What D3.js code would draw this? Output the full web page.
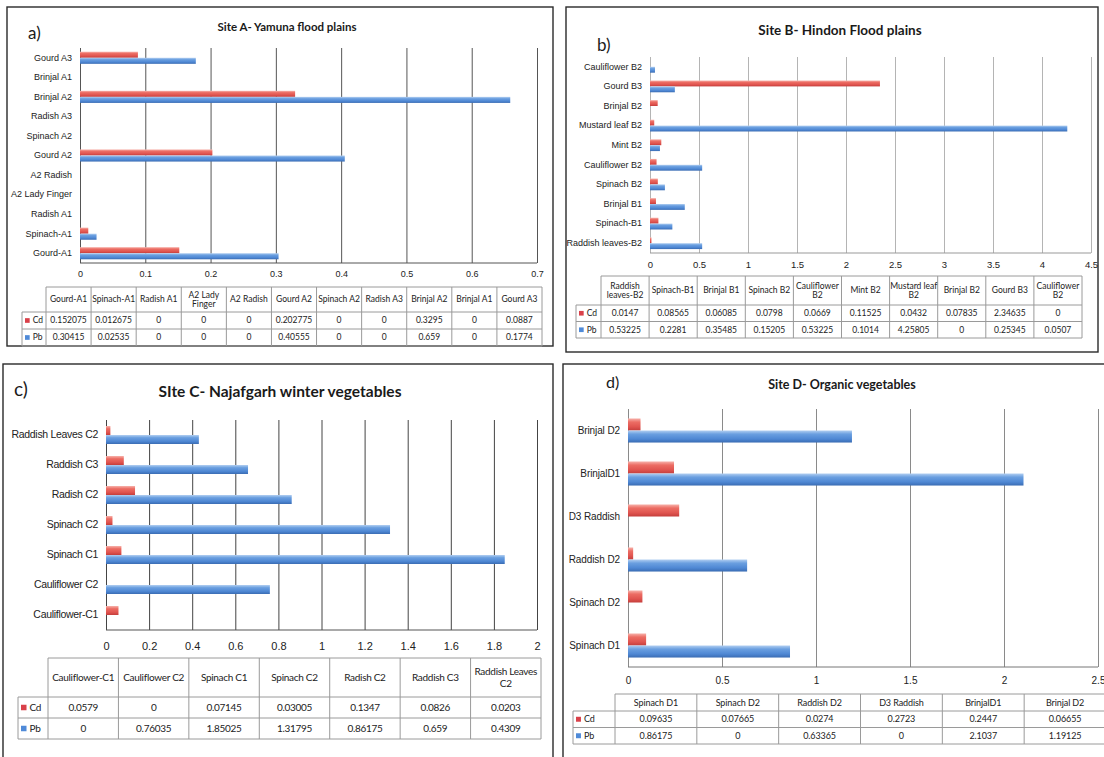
<!DOCTYPE html>
<html>
<head>
<meta charset="utf-8">
<script src="https://cdn.jsdelivr.net/npm/d3@7"></script>
<style>
  html, body { margin: 0; padding: 0; background: #fff; }
  svg { display: block; font-family: Lato, "Open Sans", sans-serif; }
</style>
</head>
<body>
<svg id="chart" width="1104" height="757"></svg>
<script>
// ---- Metal concentrations (Cd, Pb) per vegetable sample ----
const seriesNames = ["Cd", "Pb"];

const siteACategories = ["Gourd-A1", "Spinach-A1", "Radish A1", "A2 Lady Finger", "A2 Radish", "Gourd A2", "Spinach A2", "Radish A3", "Brinjal A2", "Brinjal A1", "Gourd A3"];
const siteACd = [0.152075, 0.012675, 0, 0, 0, 0.202775, 0, 0, 0.3295, 0, 0.0887];
const siteAPb = [0.30415, 0.02535, 0, 0, 0, 0.40555, 0, 0, 0.659, 0, 0.1774];
const siteATicks = [0, 0.1, 0.2, 0.3, 0.4, 0.5, 0.6, 0.7];

const siteBCategories = ["Raddish leaves-B2", "Spinach-B1", "Brinjal B1", "Spinach B2", "Cauliflower B2", "Mint B2", "Mustard leaf B2", "Brinjal B2", "Gourd B3", "Cauliflower B2"];
const siteBCd = [0.0147, 0.08565, 0.06085, 0.0798, 0.0669, 0.11525, 0.0432, 0.07835, 2.34635, 0];
const siteBPb = [0.53225, 0.2281, 0.35485, 0.15205, 0.53225, 0.1014, 4.25805, 0, 0.25345, 0.0507];
const siteBTicks = [0, 0.5, 1, 1.5, 2, 2.5, 3, 3.5, 4, 4.5];

const siteCCategories = ["Cauliflower-C1", "Cauliflower C2", "Spinach C1", "Spinach C2", "Radish C2", "Raddish C3", "Raddish Leaves C2"];
const siteCCd = [0.0579, 0, 0.07145, 0.03005, 0.1347, 0.0826, 0.0203];
const siteCPb = [0, 0.76035, 1.85025, 1.31795, 0.86175, 0.659, 0.4309];
const siteCTicks = [0, 0.2, 0.4, 0.6, 0.8, 1, 1.2, 1.4, 1.6, 1.8, 2];

const siteDCategories = ["Spinach D1", "Spinach D2", "Raddish D2", "D3 Raddish", "BrinjalD1", "Brinjal D2"];
const siteDCd = [0.09635, 0.07665, 0.0274, 0.2723, 0.2447, 0.06655];
const siteDPb = [0.86175, 0, 0.63365, 0, 2.1037, 1.19125];
const siteDTicks = [0, 0.5, 1, 1.5, 2, 2.5];

// Two-line headers in the data tables
const tableHeaderBreaks = {
  "A2 Lady Finger": ["A2 Lady", "Finger"],
  "Raddish leaves-B2": ["Raddish", "leaves-B2"],
  "Cauliflower B2": ["Cauliflower", "B2"],
  "Mustard leaf B2": ["Mustard leaf", "B2"],
  "Raddish Leaves C2": ["Raddish Leaves", "C2"]
};

// ---- Panel layout ----
const panels = [
  {
    letter: "a)", title: "Site A- Yamuna flood plains",
    categories: siteACategories, cd: siteACd, pb: siteAPb, ticks: siteATicks,
    frame: { x: 7, y: 7, w: 546, h: 339 },
    titlePos: { x: 287, y: 31, size: 11.5 }, letterPos: { x: 28, y: 39, size: 17 },
    plot: { l: 80, r: 537, t: 48, b: 263 }, barFrac: 0.62,
    grid: "#555", axis: "#555", catSize: 9, tickSize: 9, tickY: 277, spacing: 0,
    table: { l: 22, legendW: 24, r: 542, t: 287, headH: 25, rowH: 17, size: 8.5 }
  },
  {
    letter: "b)", title: "Site B- Hindon Flood plains",
    categories: siteBCategories, cd: siteBCd, pb: siteBPb, ticks: siteBTicks,
    frame: { x: 566, y: 7, w: 532, h: 345 },
    titlePos: { x: 840, y: 35, size: 13.5 }, letterPos: { x: 597, y: 51, size: 17 },
    plot: { l: 650, r: 1091, t: 57, b: 253 }, barFrac: 0.6,
    grid: "#b4b4b4", axis: "#999", catSize: 9, tickSize: 9.5, tickY: 268, spacing: 0,
    table: { l: 576, legendW: 25, r: 1082, t: 276, headH: 29, rowH: 16.5, size: 8.5 }
  },
  {
    letter: "c)", title: "SIte C- Najafgarh winter vegetables",
    categories: siteCCategories, cd: siteCCd, pb: siteCPb, ticks: siteCTicks,
    frame: { x: 3, y: 364, w: 550, h: 420 },
    titlePos: { x: 280, y: 397, size: 15.5 }, letterPos: { x: 14, y: 396, size: 19 },
    plot: { l: 106, r: 537, t: 420, b: 630 }, barFrac: 0.6,
    grid: "#444", axis: "#555", catSize: 10.5, tickSize: 11, tickY: 650, spacing: -0.3,
    table: { l: 18, legendW: 30, r: 541, t: 658, headH: 39, rowH: 21, size: 10 }
  },
  {
    letter: "d)", title: "Site D- Organic vegetables",
    categories: siteDCategories, cd: siteDCd, pb: siteDPb, ticks: siteDTicks,
    frame: { x: 563, y: 364, w: 545, h: 420 },
    titlePos: { x: 842, y: 389, size: 12.5 }, letterPos: { x: 606, y: 388, size: 16 },
    plot: { l: 628, r: 1098, t: 409, b: 667 }, barFrac: 0.56,
    grid: "#8a8a8a", axis: "#777", catSize: 10, tickSize: 10, tickY: 684, spacing: -0.1,
    table: { l: 573, legendW: 42, r: 1106, t: 694, headH: 17, rowH: 16.5, size: 9 }
  }
];

const svg = d3.select("#chart");
const colors = { Cd: "url(#gradCd)", Pb: "url(#gradPb)" };
const keyColors = { Cd: "#d9414a", Pb: "#4f8ad8" };

// Shaded bar fills
const defs = svg.append("defs");
function addGradient(id, stops) {
  const g = defs.append("linearGradient").attr("id", id)
    .attr("x1", 0).attr("y1", 0).attr("x2", 0).attr("y2", 1);
  stops.forEach(([o, c]) => g.append("stop").attr("offset", o).attr("stop-color", c));
}
addGradient("gradCd", [["0%", "#f7b2ab"], ["30%", "#ec6d64"], ["70%", "#e0544f"], ["100%", "#c43e3c"]]);
addGradient("gradPb", [["0%", "#b2cff1"], ["30%", "#6a9fe0"], ["70%", "#4f88d4"], ["100%", "#3a6cb3"]]);

panels.forEach(p => {
  const g = svg.append("g");
  const f = p.frame;

  g.append("rect").attr("x", f.x).attr("y", f.y).attr("width", f.w).attr("height", f.h)
    .attr("fill", "#fff").attr("stroke", "#2a2a2a").attr("stroke-width", 1.4);

  g.append("text").attr("x", p.titlePos.x).attr("y", p.titlePos.y)
    .attr("text-anchor", "middle").attr("font-size", p.titlePos.size).attr("font-weight", 700)
    .attr("fill", "#1a1a1a").text(p.title);
  g.append("text").attr("x", p.letterPos.x).attr("y", p.letterPos.y)
    .attr("font-size", p.letterPos.size).attr("fill", "#1a1a1a").text(p.letter);

  const pl = p.plot;
  const x = d3.scaleLinear().domain([p.ticks[0], p.ticks[p.ticks.length - 1]]).range([pl.l, pl.r]);
  const idx = d3.range(p.categories.length);
  const y = d3.scaleBand().domain(idx).range([pl.b, pl.t]);
  const bw = y.bandwidth();
  const barH = bw * p.barFrac / 2;
  const inner = d3.scaleBand().domain(seriesNames).range([0, bw])
    .paddingOuter((bw / barH - 2) / 2);

  // vertical gridlines
  const gridAxis = d3.axisBottom(x).tickValues(p.ticks).tickSize(-(pl.b - pl.t)).tickFormat("");
  g.append("g").attr("transform", `translate(0,${pl.b})`).call(gridAxis)
    .call(s => s.select(".domain").remove())
    .call(s => s.selectAll("line").attr("stroke", p.grid).attr("stroke-width", 1));

  // bottom axis line
  g.append("line").attr("x1", pl.l).attr("x2", pl.r).attr("y1", pl.b).attr("y2", pl.b)
    .attr("stroke", p.axis).attr("stroke-width", 1);

  // tick labels
  const labelAxis = d3.axisBottom(x).tickValues(p.ticks).tickSize(0).tickPadding(0).tickFormat(d => String(d));
  g.append("g").attr("transform", `translate(0,${p.tickY - p.tickSize * 0.75})`).call(labelAxis)
    .call(s => s.select(".domain").remove())
    .call(s => s.selectAll("text").attr("font-size", p.tickSize).attr("font-family", null)
      .attr("fill", "#222").attr("dy", "0.71em"));

  // category labels
  const catAxis = d3.axisLeft(y).tickSize(0).tickPadding(8).tickFormat(i => p.categories[i]);
  g.append("g").attr("transform", `translate(${pl.l},0)`).call(catAxis)
    .call(s => s.select(".domain").remove())
    .call(s => s.selectAll("text").attr("font-size", p.catSize).attr("font-family", null)
      .attr("letter-spacing", p.spacing).attr("fill", "#222"));

  // bars: Cd above Pb within each category
  const rows = idx.map(i => ({ i, Cd: p.cd[i], Pb: p.pb[i] }));
  seriesNames.forEach(sname => {
    g.append("g").selectAll("rect").data(rows).join("rect")
      .attr("x", x(0))
      .attr("y", d => y(d.i) + inner(sname))
      .attr("width", d => Math.max(0, x(d[sname]) - x(0)))
      .attr("height", inner.bandwidth())
      .attr("fill", colors[sname]);
  });

  // data table
  const t = p.table;
  const nCols = p.categories.length;
  const colW = (t.r - t.l - t.legendW) / nCols;
  const colX = i => t.l + t.legendW + i * colW;
  const tg = g.append("g").attr("letter-spacing", p.spacing);
  const lineCol = "#9a9a9a";
  const tBottom = t.t + t.headH + 2 * t.rowH;

  // horizontal rules
  tg.append("line").attr("x1", t.l + t.legendW).attr("x2", t.r).attr("y1", t.t).attr("y2", t.t).attr("stroke", lineCol);
  [t.t + t.headH, t.t + t.headH + t.rowH, tBottom].forEach(yy =>
    tg.append("line").attr("x1", t.l).attr("x2", t.r).attr("y1", yy).attr("y2", yy).attr("stroke", lineCol));
  // vertical rules
  tg.append("line").attr("x1", t.l).attr("x2", t.l).attr("y1", t.t + t.headH).attr("y2", tBottom).attr("stroke", lineCol);
  d3.range(nCols + 1).forEach(i =>
    tg.append("line").attr("x1", colX(i)).attr("x2", colX(i)).attr("y1", t.t).attr("y2", tBottom).attr("stroke", lineCol));

  // header cells
  p.categories.forEach((c, i) => {
    const lines = tableHeaderBreaks[c] || [c];
    const lh = t.size * 1.15;
    const cy = t.t + t.headH / 2 - (lines.length - 1) * lh / 2;
    const txt = tg.append("text").attr("text-anchor", "middle").attr("font-size", t.size).attr("fill", "#222");
    lines.forEach((ln, k) => txt.append("tspan").attr("x", colX(i) + colW / 2)
      .attr("y", cy + k * lh).attr("dy", "0.35em").text(ln));
  });

  // value rows with legend keys
  const series = { Cd: p.cd, Pb: p.pb };
  seriesNames.forEach((sname, r) => {
    const cy = t.t + t.headH + r * t.rowH + t.rowH / 2;
    const ks = Math.max(4, t.size * 0.55);
    tg.append("rect").attr("x", t.l + 3).attr("y", cy - ks / 2).attr("width", ks).attr("height", ks)
      .attr("fill", keyColors[sname]);
    tg.append("text").attr("x", t.l + 4 + ks + 2).attr("y", cy).attr("dy", "0.35em")
      .attr("font-size", t.size).attr("fill", "#222").text(sname);
    series[sname].forEach((v, i) => {
      tg.append("text").attr("x", colX(i) + colW / 2).attr("y", cy).attr("dy", "0.35em")
        .attr("text-anchor", "middle").attr("font-size", t.size).attr("fill", "#222").text(String(v));
    });
  });
});
</script>
</body>
</html>
